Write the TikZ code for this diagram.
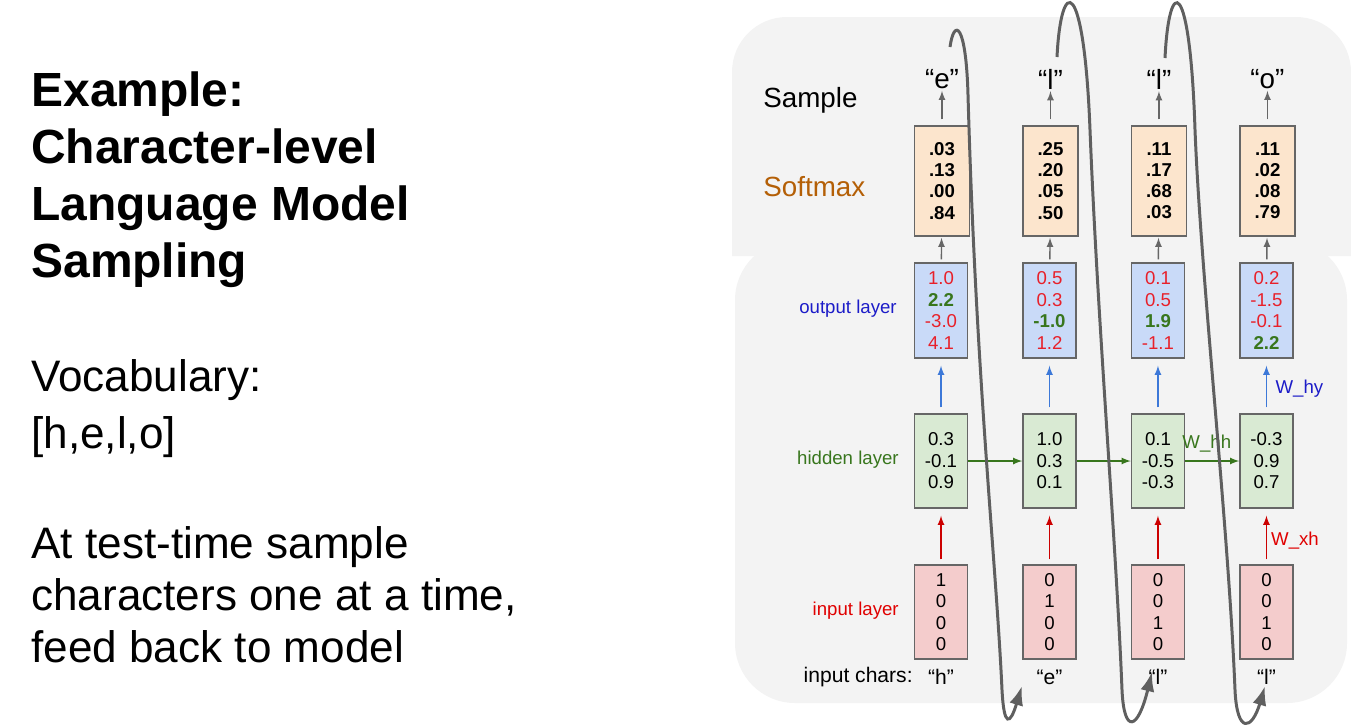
\documentclass[tikz,border=0pt]{standalone}
\usepackage{fontspec}
\setmainfont{Liberation Sans}
\usetikzlibrary{arrows.meta,calc}

\definecolor{panelgray}{HTML}{F3F3F3}
\definecolor{cellborder}{HTML}{666666}
\definecolor{softfill}{HTML}{FCE5CD}
\definecolor{outfill}{HTML}{C9DAF8}
\definecolor{hidfill}{HTML}{D9EAD3}
\definecolor{infill}{HTML}{F4CCCC}
\definecolor{numred}{HTML}{E8202A}
\definecolor{numgreen}{HTML}{38761D}
\definecolor{labblue}{HTML}{1C1CC8}
\definecolor{labred}{HTML}{E00000}
\definecolor{softbrown}{HTML}{B45F06}
\definecolor{arrowgray}{HTML}{666666}
\definecolor{arrowblue}{HTML}{3C78D8}
\definecolor{arrowred}{HTML}{CC0000}
\definecolor{loopgray}{HTML}{5F5F5F}

\newcommand{\redval}[1]{\textcolor{numred}{#1}}
\newcommand{\grnval}[1]{\textcolor{numgreen}{\bfseries #1}}

\tikzset{
  cell/.style={draw=cellborder,line width=0.8pt,minimum width=1.06cm,minimum height=1.88cm,
    inner sep=0pt,align=center,font=\fontsize{10.6}{12.2}\selectfont},
  prob node/.style={cell,fill=softfill,minimum width=1.1cm,minimum height=2.2cm,
    font=\bfseries\fontsize{10.6}{12}\selectfont},
  out node/.style={cell,fill=outfill,minimum height=1.9cm},
  hid node/.style={cell,fill=hidfill},
  in node/.style={cell,fill=infill},
  small label/.style={font=\fontsize{10.6}{12}\selectfont,inner sep=0pt},
  char label/.style={font=\fontsize{12}{14}\selectfont,inner sep=0pt},
  big label/.style={font=\fontsize{15.8}{18}\selectfont,inner sep=0pt},
  feedback/.style={draw=loopgray,line width=1.7pt,-{Latex[length=11pt,width=8pt]}}
}

\begin{document}
\begin{tikzpicture}[x=0.02cm,y=-0.02cm,>=latex,node distance=2.17cm]
\useasboundingbox (0,0) rectangle (1351,724);

% grey panels
\fill[panelgray,rounded corners=1.2cm] (735,240) rectangle (1347,703);
\fill[panelgray] (732,256) [rounded corners=1.1cm] -- (732,17) -- (1351,17)
  [sharp corners] -- (1351,256) -- cycle;

% left text (anchored at the last line)
\node[anchor=base west,inner sep=0pt,align=left,font=\bfseries\fontsize{27.3}{32.4}\selectfont]
  (title) at (31,277) {Example:\\Character-level\\Language Model\\Sampling};
\node[anchor=base west,inner sep=0pt,align=left,font=\fontsize{25.1}{31.9}\selectfont]
  (vocab) at (31,448) {Vocabulary:\\{[h,e,l,o]}};
\node[anchor=base west,inner sep=0pt,align=left,font=\fontsize{25.1}{29.6}\selectfont]
  (note) at (31,662) {At test-time sample\\characters one at a time,\\feed back to model};

% row labels
\node[big label,anchor=west] (sample) at (763,100) {Sample};
\node[big label,anchor=west,text=softbrown] (softmax) at (763,187) {Softmax};
\node[small label,anchor=east,text=labblue] (outlab) at (897,309) {output layer};
\node[small label,anchor=east,text=numgreen] (hidlab) at (899,460) {hidden layer};
\node[small label,anchor=east,text=labred] (inlab) at (899,611) {input layer};
\node[char label,anchor=east] (charlab) at (913,677) {input chars:};

% sampled characters
\node[big label] (q1) at (942,79) {“e”};
\node[big label] (q2) [right of=q1] {“l”};
\node[big label] (q3) [right of=q2] {“l”};
\node[big label] (q4) [right of=q3] {“o”};

% softmax
\node[prob node] (s1) at (942,181) {.03\\.13\\.00\\.84};
\node[prob node] (s2) [right of=s1] {.25\\.20\\.05\\.50};
\node[prob node] (s3) [right of=s2] {.11\\.17\\.68\\.03};
\node[prob node] (s4) [right of=s3] {.11\\.02\\.08\\.79};

% output layer
\node[out node] (o1) at (941,310.5) {\redval{1.0}\\\grnval{2.2}\\\redval{-3.0}\\\redval{4.1}};
\node[out node] (o2) [right of=o1] {\redval{0.5}\\\redval{0.3}\\\grnval{-1.0}\\\redval{1.2}};
\node[out node] (o3) [right of=o2] {\redval{0.1}\\\redval{0.5}\\\grnval{1.9}\\\redval{-1.1}};
\node[out node] (o4) [right of=o3] {\redval{0.2}\\\redval{-1.5}\\\redval{-0.1}\\\grnval{2.2}};

% hidden layer
\node[hid node] (h1) at (941,461) {0.3\\-0.1\\0.9};
\node[hid node] (h2) [right of=h1] {1.0\\0.3\\0.1};
\node[hid node] (h3) [right of=h2] {0.1\\-0.5\\-0.3};
\node[hid node] (h4) [right of=h3] {-0.3\\0.9\\0.7};

% input layer
\node[in node] (i1) at (941,612) {1\\0\\0\\0};
\node[in node] (i2) [right of=i1] {0\\1\\0\\0};
\node[in node] (i3) [right of=i2] {0\\0\\1\\0};
\node[in node] (i4) [right of=i3] {0\\0\\1\\0};

% input characters
\node[char label] (c1) at (941,677) {“h”};
\node[char label] (c2) [right of=c1] {“e”};
\node[char label] (c3) [right of=c2] {“l”};
\node[char label] (c4) [right of=c3] {“l”};

% vertical arrows
\foreach \k in {1,...,4} {
  \draw[->,arrowgray,line width=0.8pt,shorten <=3.4pt,shorten >=1pt] (s\k) -- (q\k);
  \draw[->,arrowgray,line width=0.8pt,shorten <=1.7pt,shorten >=0.6pt] (o\k) -- (s\k);
  \draw[->,arrowblue,line width=0.8pt,shorten <=3.4pt,shorten >=4pt] (h\k) -- (o\k);
  \draw[->,arrowred,line width=0.8pt,shorten <=2.8pt,shorten >=4pt] (i\k) -- (h\k);
}
\node[small label,text=labblue,anchor=west] (why) at ([xshift=5pt,yshift=-1.5pt]$(h4.north)!0.5!(o4.south)$) {W\_hy};
\node[small label,text=labred,anchor=west] (wxh) at ([xshift=2.5pt,yshift=-2.5pt]$(i4.north)!0.5!(h4.south)$) {W\_xh};

% recurrence
\draw[->,numgreen,line width=0.8pt] (h1) -- (h2);
\draw[->,numgreen,line width=0.8pt] (h2) -- (h3);
\draw[->,numgreen,line width=0.8pt] (h3) -- node[small label,text=numgreen,pos=0.4,above=4.5pt] (whh) {W\_hh} (h4);

% feed the sample back in
\coordinate (top1) at (950,47);
\coordinate (top2) at (1057,57);
\coordinate (top3) at (1165,58);
\coordinate (bot1) at (1022,686);
\coordinate (bot2) at (1152,672);
\coordinate (bot3) at (1265,686);
\draw[feedback] (top1) .. controls (954,18) and (966,22) .. (968,95)
  .. controls (976,380) and (996,560) .. (1002,690)
  .. controls (1004,728) and (1010,725) .. (bot1);
\draw[feedback] (top2) .. controls (1061,-25) and (1084,-25) .. (1090,130)
  .. controls (1098,330) and (1116,540) .. (1122,690)
  .. controls (1124,735) and (1138,730) .. (bot2);
\draw[feedback] (top3) .. controls (1169,-25) and (1190,-25) .. (1195,130)
  .. controls (1201,280) and (1228,520) .. (1235,690)
  .. controls (1237,735) and (1252,730) .. (bot3);
\end{tikzpicture}
\end{document}
